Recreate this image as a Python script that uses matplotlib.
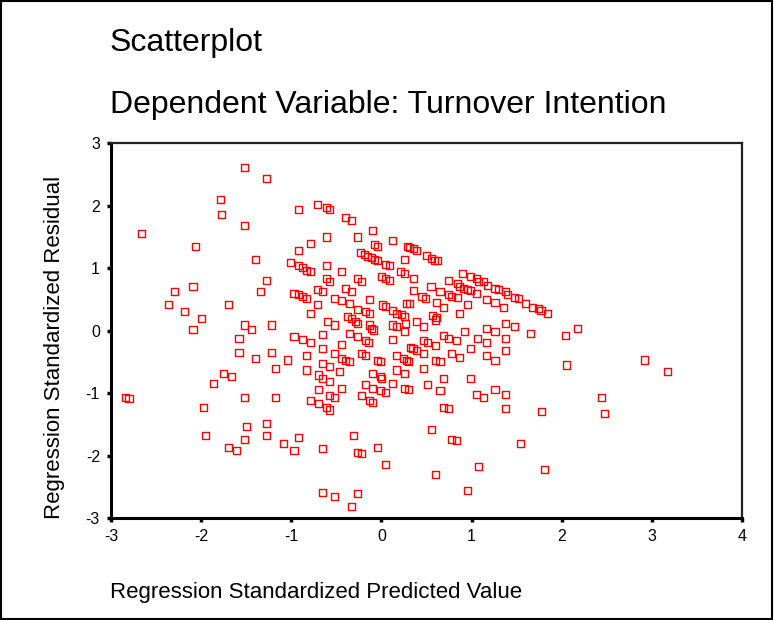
import matplotlib
matplotlib.use("Agg")
import matplotlib.pyplot as plt
from matplotlib.patches import Rectangle

plt.rcParams["font.family"] = ["Liberation Sans", "DejaVu Sans"]
plt.rcParams["axes.unicode_minus"] = False

# standardized predicted values (x) and standardized residuals (y)
pred = [
    -2.66, -2.84, -2.80, -2.36, -2.30, -2.18, -2.09, -2.09, -2.06, -2.00,
    -1.97, -1.95, -1.86, -1.79, -1.77, -1.75, -1.70, -1.70, -1.66, -1.61,
    -1.58, -1.58, -1.52, -1.52, -1.52, -1.52, -1.52, -1.50, -1.44, -1.40,
    -1.40, -1.34, -1.27, -1.27, -1.27, -1.27, -1.22, -1.22, -1.18, -1.18,
    -1.09, -1.04, -1.01, -0.97, -0.97, -0.97, -0.92, -0.92, -0.92, -0.92,
    -0.92, -0.88, -0.88, -0.88, -0.83, -0.83, -0.83, -0.83, -0.79, -0.79,
    -0.79, -0.79, -0.79, -0.71, -0.71, -0.71, -0.70, -0.70, -0.70, -0.65,
    -0.65, -0.65, -0.65, -0.65, -0.65, -0.65, -0.61, -0.61, -0.61, -0.61,
    -0.61, -0.60, -0.58, -0.58, -0.58, -0.58, -0.58, -0.58, -0.52, -0.52,
    -0.52, -0.52, -0.52, -0.47, -0.44, -0.44, -0.44, -0.44, -0.44, -0.40,
    -0.40, -0.40, -0.38, -0.35, -0.35, -0.35, -0.33, -0.33, -0.33, -0.33,
    -0.31, -0.29, -0.27, -0.27, -0.27, -0.27, -0.27, -0.27, -0.27, -0.23,
    -0.22, -0.22, -0.22, -0.22, -0.19, -0.18, -0.18, -0.18, -0.18, -0.15,
    -0.14, -0.13, -0.13, -0.13, -0.13, -0.11, -0.11, -0.10, -0.10, -0.10,
    -0.10, -0.09, -0.08, -0.08, -0.04, -0.04, -0.04, -0.04, -0.01, -0.01,
    -0.01, 0.00, 0.00, 0.01, 0.05, 0.04, 0.05, 0.05, 0.05, 0.09,
    0.09, 0.12, 0.12, 0.12, 0.12, 0.12, 0.17, 0.17, 0.17, 0.17,
    0.21, 0.22, 0.24, 0.26, 0.26, 0.26, 0.26, 0.26, 0.26, 0.27,
    0.28, 0.28, 0.29, 0.31, 0.30, 0.30, 0.31, 0.32, 0.36, 0.36,
    0.35, 0.36, 0.39, 0.39, 0.39, 0.45, 0.47, 0.47, 0.47, 0.47,
    0.49, 0.50, 0.51, 0.51, 0.55, 0.56, 0.56, 0.57, 0.59, 0.60,
    0.60, 0.60, 0.60, 0.61, 0.61, 0.62, 0.65, 0.65, 0.65, 0.69,
    0.69, 0.69, 0.69, 0.74, 0.74, 0.74, 0.74, 0.78, 0.78, 0.78,
    0.83, 0.83, 0.84, 0.84, 0.87, 0.87, 0.87, 0.90, 0.91, 0.95,
    0.92, 0.95, 0.95, 0.99, 0.99, 0.99, 0.99, 1.05, 1.05, 1.05,
    1.07, 1.08, 1.08, 1.13, 1.13, 1.17, 1.17, 1.17, 1.17, 1.18,
    1.26, 1.26, 1.26, 1.26, 1.26, 1.30, 1.35, 1.38, 1.40, 1.38,
    1.38, 1.38, 1.38, 1.38, 1.48, 1.48, 1.52, 1.54, 1.60, 1.65,
    1.68, 1.74, 1.77, 1.78, 1.81, 1.84, 2.04, 2.05, 2.17, 2.44,
    2.47, 2.92, 3.17,
]
resid = [
    1.56, -1.07, -1.09, 0.42, 0.63, 0.30, 0.70, 0.02, 1.35, 0.19,
    -1.23, -1.68, -0.84, 2.10, 1.86, -0.68, 0.42, -1.87, -0.74, -1.92,
    -0.12, -0.35, 2.61, 1.69, 0.09, -1.07, -1.74, -1.53, 0.02, 1.14,
    -0.45, 0.63, 2.43, 0.81, -1.48, -1.68, 0.09, -0.35, -0.61, -1.07,
    -1.81, -0.47, 1.09, 0.60, -0.09, -1.92, 1.94, 1.28, 1.04, 0.58,
    -1.71, 1.01, 0.55, -0.14, 0.97, 0.52, -0.40, -0.63, 1.40, 0.94,
    0.27, -0.19, -1.12, 2.02, 0.66, 0.42, -0.71, -0.94, -1.17, 0.63,
    -0.06, -0.29, -0.53, -0.76, -1.89, -2.59, 1.97, 1.50, 1.04, 0.84,
    -1.23, 0.14, 1.94, 0.78, -0.58, -0.81, -1.04, -1.27, 0.52, 0.09,
    -0.37, -1.07, -2.66, -0.66, 0.94, 0.48, -0.22, -0.45, -0.92, -0.48,
    1.81, 0.68, 0.22, 0.43, -0.04, -0.50, 1.76, 0.63, 0.19, -2.82,
    -1.68, 0.14, 1.50, 0.84, 0.34, 0.11, -0.10, -1.95, -2.61, 1.25,
    0.78, -0.37, -1.04, -1.97, 1.22, 0.30, -0.16, -0.40, -0.86, 1.19,
    -0.19, 0.50, 0.27, -1.12, 0.09, 1.17, 0.04, 1.61, -0.68, -0.92,
    -1.15, 0.01, 1.14, 1.38, -0.48, -1.87, 1.34, 1.12, -0.74, -0.50,
    -0.96, 0.86, -0.76, 0.41, 0.38, 1.06, 0.84, -0.99, -2.15, 1.04,
    0.81, 0.09, -0.14, -0.84, 1.45, 0.32, 0.28, 0.06, -0.40, -0.63,
    0.94, 0.26, -0.45, 1.14, 0.91, 0.22, -0.02, -0.68, -0.92, 0.12,
    0.43, -0.48, 1.34, 0.43, -0.50, -0.94, 1.33, -0.27, 0.84, 0.64,
    -0.29, 1.31, -0.32, 1.28, 0.14, 0.55, 0.06, -0.16, -0.37, -0.61,
    0.52, 1.20, -0.19, -0.86, 0.70, 1.15, -1.58, 0.24, 1.13, 0.17,
    -0.24, -0.48, -2.30, 0.21, 0.45, 1.12, 0.63, -0.50, -0.96, 0.37,
    -0.08, -0.76, -1.23, 0.81, 0.58, -0.12, -1.25, 0.55, -0.37, -1.74,
    -1.76, -0.16, 0.76, 0.53, 0.27, -0.43, 0.70, 0.92, 0.68, 0.66,
    -0.01, 0.42, -2.56, 0.86, 0.64, -0.29, -0.76, 0.84, 0.60, -1.02,
    -0.12, 0.78, -2.18, 0.78, -1.07, 0.50, 0.04, -0.19, -0.40, 0.73,
    0.68, 0.45, -0.02, -0.48, -0.94, 0.66, 0.37, 0.62, 0.58, 0.12,
    -0.12, -0.32, -1.02, -1.25, 0.53, 0.06, 0.51, -1.81, 0.43, -0.05,
    0.37, 0.35, 0.32, -1.30, -2.22, 0.27, -0.08, -0.55, 0.04, -1.07,
    -1.32, -0.47, -0.66,
]

xticks = [-3, -2, -1, 0, 1, 2, 3, 4]
yticks = [-3, -2, -1, 0, 1, 2, 3]

fig = plt.figure(figsize=(7.74, 6.2), dpi=100)
ax = fig.add_axes([0.1434, 0.1645, 0.8153, 0.6044])

ax.scatter(pred, resid, marker="s", s=26, facecolors="none",
           edgecolors="#ff0000", linewidths=1.0, clip_on=False)

ax.set_xlim(-3, 4)
ax.set_ylim(-3, 3)
ax.set_xticks(xticks)
ax.set_yticks(yticks)
ax.tick_params(direction="out", length=3, width=2.5, labelsize=11.5, pad=5)

for side in ["left", "bottom"]:
    ax.spines[side].set_linewidth(2.2)
for side in ["top", "right"]:
    ax.spines[side].set_linewidth(1.6)
    ax.spines[side].set_color("#222222")

fig.text(0.142, 0.930, "Scatterplot", fontsize=23, va="center", ha="left")
fig.text(0.142, 0.830, "Dependent Variable: Turnover Intention", fontsize=23,
         va="center", ha="left")
fig.text(0.142, 0.044, "Regression Standardized Predicted Value", fontsize=16,
         va="center", ha="left")
fig.text(0.071, 0.44, "Regression Standardized Residual", fontsize=16,
         va="center", ha="center", rotation=90)

fig.patches.append(Rectangle((0.001, 0.001), 0.997, 0.997, transform=fig.transFigure,
                             fill=False, edgecolor="black", linewidth=1.5))

fig.savefig("out.png", dpi=100)
plt.close(fig)
